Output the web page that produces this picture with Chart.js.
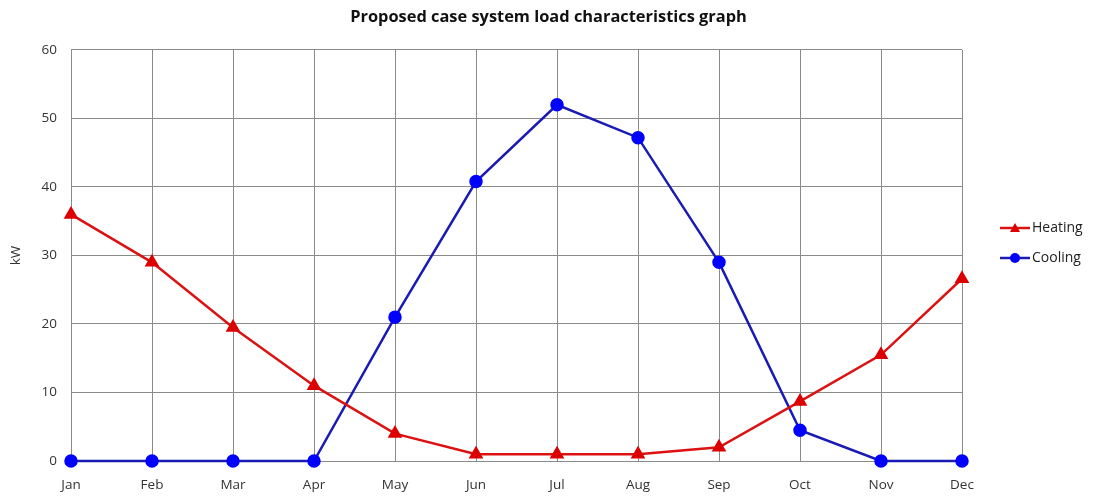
<!DOCTYPE html>
<html>
<head>
<meta charset="utf-8">
<script src="https://cdn.jsdelivr.net/npm/chart.js@4/dist/chart.umd.min.js"></script>
<style>
  html, body { margin: 0; padding: 0; background: #fff; }
  #wrap { width: 1097px; height: 497px; }
</style>
</head>
<body>
<div id="wrap"><canvas id="loadChart" width="1097" height="497"></canvas></div>
<script>
var months = ["Jan", "Feb", "Mar", "Apr", "May", "Jun", "Jul", "Aug", "Sep", "Oct", "Nov", "Dec"];
var heating = [36, 29, 19.5, 11, 4, 1, 1, 1, 2, 8.7, 15.5, 26.6];
var cooling = [0, 0, 0, 0, 21, 40.8, 52, 47.2, 29, 4.5, 0, 0];
var yTicks = [0, 10, 20, 30, 40, 50, 60];

var FONT = "'Open Sans', 'DejaVu Sans', sans-serif";

// legend drawn as line + marker like the original
var sideLegend = {
  id: 'sideLegend',
  afterDraw: function (chart) {
    var c = chart.ctx;
    var x0 = 1000;
    var rows = [228, 258];
    chart.data.datasets.forEach(function (ds, i) {
      var y = rows[i];
      c.save();
      c.strokeStyle = ds.borderColor;
      c.lineWidth = 2.5;
      c.beginPath();
      c.moveTo(x0, y);
      c.lineTo(x0 + 30, y);
      c.stroke();
      c.fillStyle = ds.pointBackgroundColor;
      c.beginPath();
      if (ds.pointStyle === 'triangle') {
        c.moveTo(x0 + 15, y - 5);
        c.lineTo(x0 + 20, y + 4);
        c.lineTo(x0 + 10, y + 4);
        c.closePath();
      } else {
        c.arc(x0 + 15, y, 5, 0, Math.PI * 2);
      }
      c.fill();
      c.fillStyle = '#222';
      c.font = '14px ' + FONT;
      c.textBaseline = 'middle';
      c.fillText(ds.label, x0 + 32, y);
      c.restore();
    });
  }
};

var ctx = document.getElementById("loadChart").getContext('2d');
var myChart = new Chart(ctx, {
  type: 'line',
  plugins: [sideLegend],
  data: {
    labels: months,
    datasets: [{
      label: "Heating",
      data: heating,
      borderColor: "#dd1111",
      backgroundColor: "#dd1111",
      pointBackgroundColor: "#dd0000",
      pointBorderColor: "#dd0000",
      pointStyle: 'triangle',
      pointRadius: 6,
      borderWidth: 2.5,
      tension: 0,
      clip: false
    }, {
      label: "Cooling",
      data: cooling,
      borderColor: "#1a1ab4",
      backgroundColor: "#1a1ab4",
      pointBackgroundColor: "#0000ff",
      pointBorderColor: "#0000ff",
      pointStyle: 'circle',
      pointRadius: 5.5,
      borderWidth: 2.5,
      tension: 0,
      clip: false
    }]
  },
  options: {
    responsive: false,
    animation: false,
    layout: { padding: 0 },
    plugins: {
      legend: { display: false },
      tooltip: { enabled: false },
      title: {
        display: true,
        text: "Proposed case system load characteristics graph",
        color: '#111',
        font: { family: FONT, size: 16.4, weight: 'bold' },
        padding: { top: 7, bottom: 23.3 }
      }
    },
    scales: {
      x: {
        offset: false,
        grid: { color: '#8a8a8a', lineWidth: 1, drawTicks: false },
        border: { color: '#8a8a8a' },
        ticks: { color: '#333', font: { family: FONT, size: 13.5 }, padding: 16, maxRotation: 0 },
        afterFit: function (s) { s.height = 36; }
      },
      y: {
        min: 0,
        max: 60,
        afterBuildTicks: function (s) { s.ticks = yTicks.map(function (v) { return { value: v }; }); },
        grid: { color: '#8a8a8a', lineWidth: 1, drawTicks: false },
        border: { color: '#8a8a8a' },
        ticks: { color: '#333', font: { family: FONT, size: 13.5 }, padding: 14 },
        title: { display: true, text: 'kW', color: '#333', font: { family: FONT, size: 13.5 }, padding: { top: 8, bottom: 0 } },
        afterFit: function (s) { s.width = 71; }
      },
      // empty right-hand axis only reserves room for the legend
      yRight: {
        position: 'right',
        min: 0,
        max: 60,
        grid: { display: false },
        border: { display: false },
        ticks: { display: false },
        afterFit: function (s) { s.width = 135; }
      }
    }
  }
});
</script>
</body>
</html>
